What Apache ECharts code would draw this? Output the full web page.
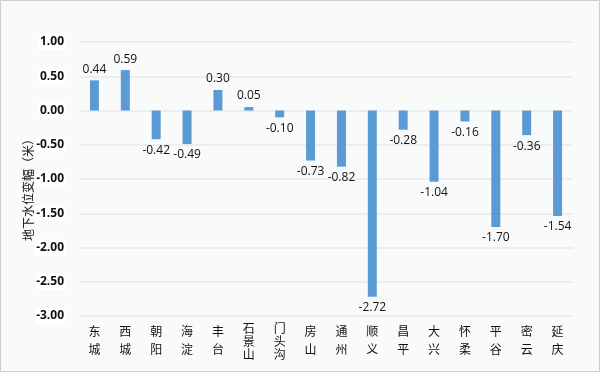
<!DOCTYPE html>
<html><head><meta charset="utf-8">
<script src="https://cdn.jsdelivr.net/npm/echarts@6/dist/echarts.min.js"></script>
<style>html,body{margin:0;padding:0;background:#F9FAFA;}#c{width:600px;height:372px;}</style>
</head><body><div id="c"></div>
<script>
const categories = ['东城','西城','朝阳','海淀','丰台','石景山','门头沟','房山','通州','顺义','昌平','大兴','怀柔','平谷','密云','延庆'];
const values = [0.44, 0.59, -0.42, -0.49, 0.30, 0.05, -0.10, -0.73, -0.82, -2.72, -0.28, -1.04, -0.16, -1.70, -0.36, -1.54];
const yTicks = { min: -3, max: 1, interval: 0.5 };
const yName = '地下水位变幅（米）';

const chart = echarts.init(document.getElementById('c'), null, {renderer:'canvas'});
chart.setOption({
  backgroundColor: '#F9FAFA',
  animation: false,
  graphic: [{type:'rect', shape:{x:0.5,y:0.5,width:599,height:371}, style:{fill:'none', stroke:'#CFCFCF', lineWidth:1}, silent:true}],
  grid: {left: 79, right: 27, top: 42, bottom: 56, containLabel: false, outerBoundsMode: 'none'},
  xAxis: {
    type: 'category', data: categories,
    axisLine: {show:false}, axisTick: {show:false},
    axisLabel: {
      interval: 0, margin: 6, color:'#111', fontSize: 12,
      fontFamily: 'Noto Sans CJK SC', verticalAlign: 'top',
      formatter: v => {
        const s = v.length > 2 ? 'c' : 'd';
        return v.split('').map(ch => '{' + s + '|' + ch + '}').join('\n');
      },
      rich: {
        d: {lineHeight: 18, fontSize: 12, color:'#111', fontFamily: 'Noto Sans CJK SC'},
        c: {lineHeight: 13, fontSize: 12, color:'#111', fontFamily: 'Noto Sans CJK SC'}
      }
    }
  },
  yAxis: {
    type: 'value', min: yTicks.min, max: yTicks.max, interval: yTicks.interval,
    name: yName, nameLocation: 'middle', nameGap: 45, nameRotate: 90, nameMoveOverlap: false,
    nameTextStyle: {fontSize: 12, color:'#111', fontFamily:'Noto Sans CJK SC', padding:[0,16,0,0]},
    axisLine: {show:false}, axisTick: {show:false},
    splitLine: {lineStyle: {color:'#E8E8E8', width: 1.5}},
    axisLabel: {
      formatter: v => v.toFixed(2), fontWeight: 'bold', color:'#111', fontSize: 12,
      fontFamily: 'Open Sans', margin: 14, backgroundColor:'#fff', padding:[2,1]
    }
  },
  series: [{
    type: 'bar', barWidth: 9,
    data: values.map(v => ({value: v, label: {position: v < 0 ? 'bottom' : 'top'}})),
    itemStyle: {color: '#5B9BD5'},
    label: {
      show: true, distance: 5, color:'#111', fontSize: 12,
      fontFamily: 'Open Sans', formatter: p => p.value.toFixed(2)
    }
  }]
});
</script></body></html>
